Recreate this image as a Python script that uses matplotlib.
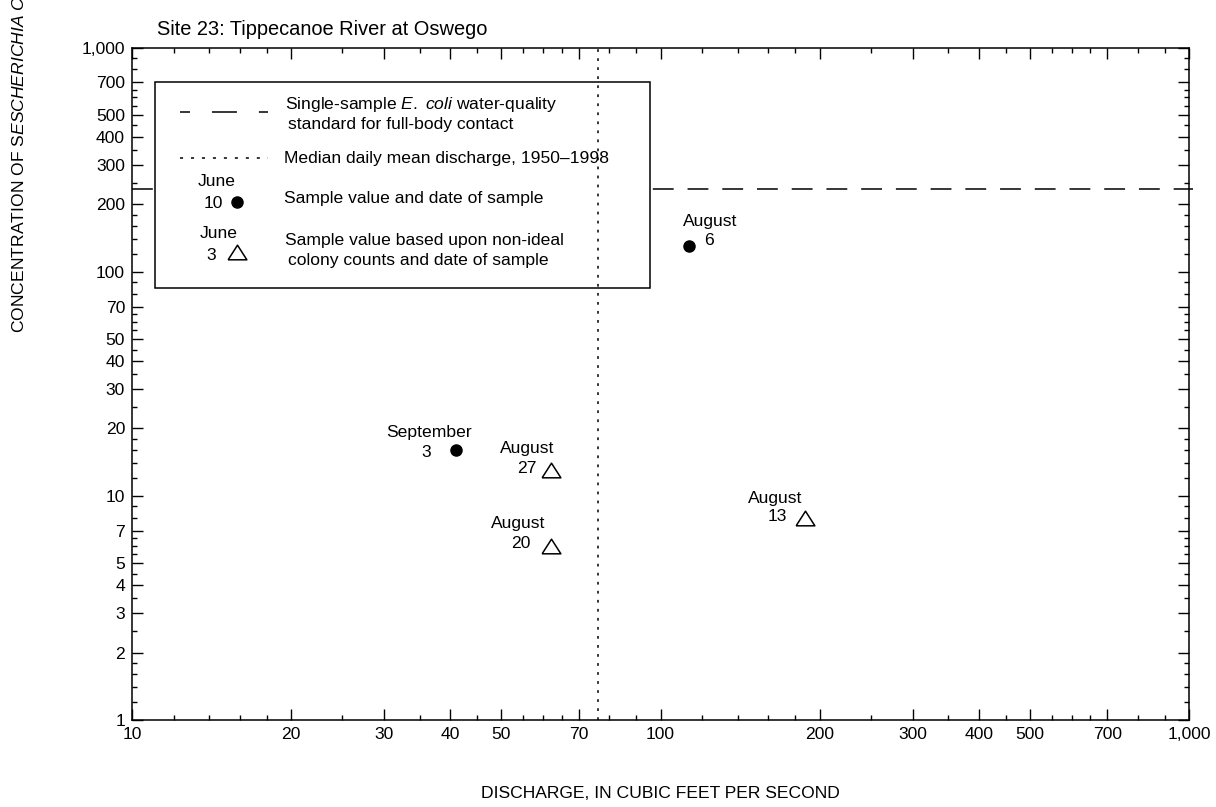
import matplotlib
matplotlib.use('Agg')
import matplotlib.pyplot as plt
from matplotlib import font_manager
from matplotlib.patches import Rectangle
from matplotlib.lines import Line2D
from matplotlib.ticker import FixedLocator, FixedFormatter, NullFormatter

# data
months = ["September", "August", "August", "August", "August"]
days = ["3", "27", "20", "13", "6"]
discharge = [41, 62, 62, 188, 113]
ecoli = [16, 13, 6, 8, 130]
ideal = [True, False, False, False, True]
standard = 235
median_q = 76

x_major = [10, 20, 30, 40, 50, 70, 100, 200, 300, 400, 500, 700, 1000]
y_major = [1, 2, 3, 4, 5, 7, 10, 20, 30, 40, 50, 70, 100, 200, 300, 400, 500, 700, 1000]
minor_base = [1.2, 1.4, 1.6, 1.8, 2.5, 3.5, 4.5, 5.5, 6, 6.5, 8, 9]

# label offsets (pixels) per point: month centre, day anchor
month_off = [(-27, 18), (-24, 22), (-33, 22), (-30, 19), (22, 25)]
day_off = [(-25, -2), (-14, 2), (-20, 2), (-18, 1), (20, 6)]
day_ha = ['right', 'right', 'right', 'right', 'center']

names = {f.name for f in font_manager.fontManager.ttflist}
if 'Liberation Sans Narrow' in names:
    fam, k = 'Liberation Sans Narrow', 1.0
else:
    fam, k = 'Liberation Sans', 0.84
plt.rcParams['font.family'] = [fam, 'DejaVu Sans']
plt.rcParams['mathtext.fontset'] = 'custom'
plt.rcParams['mathtext.rm'] = fam
plt.rcParams['mathtext.it'] = fam + ':italic'
plt.rcParams['lines.scale_dashes'] = False
fs = 15 * k

W, H = 1216, 807
tri = [(-1, -0.78), (1, -0.78), (0, 0.78), (-1, -0.78)]


def px(x, y):
    return x / W, 1 - y / H


fig = plt.figure(figsize=(W / 100, H / 100), dpi=100)
ax = fig.add_axes([132 / W, 1 - 720 / H, (1189 - 132) / W, (720 - 47.7) / H])
ax.set_xscale('log')
ax.set_yscale('log')
ax.set_xlim(10, 1000)
ax.set_ylim(1, 1000)

minor = [b * d for d in (1, 10, 100) for b in minor_base]
ax.xaxis.set_major_locator(FixedLocator(x_major))
ax.xaxis.set_major_formatter(FixedFormatter([f"{v:,}" for v in x_major]))
ax.xaxis.set_minor_locator(FixedLocator([m * 10 for m in minor]))
ax.xaxis.set_minor_formatter(NullFormatter())
ax.yaxis.set_major_locator(FixedLocator(y_major))
ax.yaxis.set_major_formatter(FixedFormatter([f"{v:,}" for v in y_major]))
ax.yaxis.set_minor_locator(FixedLocator(minor))
ax.yaxis.set_minor_formatter(NullFormatter())
ax.tick_params(which='both', direction='in', top=True, right=True, width=1.0, labelsize=fs, pad=5)
ax.tick_params(which='major', length=8)
ax.tick_params(which='minor', length=3.6)
for s in ax.spines.values():
    s.set_linewidth(1.1)

# standard line and median discharge
ax.axhline(standard, xmin=0, xmax=1.004, color='black', lw=1.1, linestyle=(0, (15, 10)), zorder=1, clip_on=False)
ax.axvline(median_q, color='black', lw=1.1, linestyle=(0, (2, 4.5)), zorder=3)

for i in range(len(months)):
    if ideal[i]:
        ax.plot(discharge[i], ecoli[i], 'o', ms=8, color='black', zorder=4)
    else:
        ax.plot(discharge[i], ecoli[i], marker=tri, ms=13.5,
                mfc='white', mec='black', mew=1.1, ls='none', zorder=4)
    ax.annotate(months[i], (discharge[i], ecoli[i]), xytext=month_off[i], textcoords='offset pixels',
                ha='center', va='center', fontsize=fs)
    ax.annotate(days[i], (discharge[i], ecoli[i]), xytext=day_off[i], textcoords='offset pixels',
                ha=day_ha[i], va='center', fontsize=fs)

# legend box
x0, y0 = px(155, 288)
x1, y1 = px(650, 82)
ax.add_patch(Rectangle((x0, y0), x1 - x0, y1 - y0, transform=fig.transFigure,
                       facecolor='white', edgecolor='black', lw=1.1, zorder=2))
lx0, _ = px(180, 0)
lx1, _ = px(268, 0)
_, ly = px(0, 111.7)
ax.add_line(Line2D([lx0, lx1], [ly, ly], transform=fig.transFigure, color='black', lw=1.1,
                   linestyle=(10.8, (18, 15.8)), zorder=5))
_, ly = px(0, 157.7)
ax.add_line(Line2D([lx0, lx1], [ly, ly], transform=fig.transFigure, color='black', lw=1.1,
                   linestyle=(0, (2.2, 5.7)), zorder=5))
mx, my = px(236.7, 201.7)
ax.plot(mx, my, 'o', ms=8, color='black', transform=fig.transFigure, zorder=5, clip_on=False)
mx, my = px(236.7, 251.7)
ax.plot(mx, my, marker=tri, ms=13.5, mfc='white', mec='black',
        mew=1.1, transform=fig.transFigure, zorder=5, clip_on=False)

leg_texts = [
    (285, 105, r"Single-sample $\mathit{E.}$ $\mathit{coli}$ water-quality"),
    (288, 124, "standard for full-body contact"),
    (284, 158, "Median daily mean discharge, 1950–1998"),
    (284, 198, "Sample value and date of sample"),
    (285, 240, "Sample value based upon non-ideal"),
    (288, 260, "colony counts and date of sample"),
]
for x, y, t in leg_texts:
    fig.text(*px(x, y), t, ha='left', va='center', fontsize=fs, zorder=6)
fig.text(*px(217, 182), "June", ha='center', va='center', fontsize=fs, zorder=6)
fig.text(*px(223, 204), "10", ha='right', va='center', fontsize=fs, zorder=6)
fig.text(*px(219, 233), "June", ha='center', va='center', fontsize=fs, zorder=6)
fig.text(*px(216, 255), "3", ha='right', va='center', fontsize=fs, zorder=6)

# titles and axis labels
fig.text(*px(157, 35), "Site 23: Tippecanoe River at Oswego", ha='left', va='baseline', fontsize=14.4)
fig.text(*px(660, 793), "DISCHARGE, IN CUBIC FEET PER SECOND", ha='center', va='center', fontsize=fs)
fig.text(*px(19, 333), r"CONCENTRATION OF S$\mathit{ESCHERICHIA}$ $\mathit{COLI}$, IN COLONIES PER 100 MILLILITERS",
         rotation=90, ha='center', va='bottom', fontsize=fs)

fig.savefig('out.png', dpi=100)
